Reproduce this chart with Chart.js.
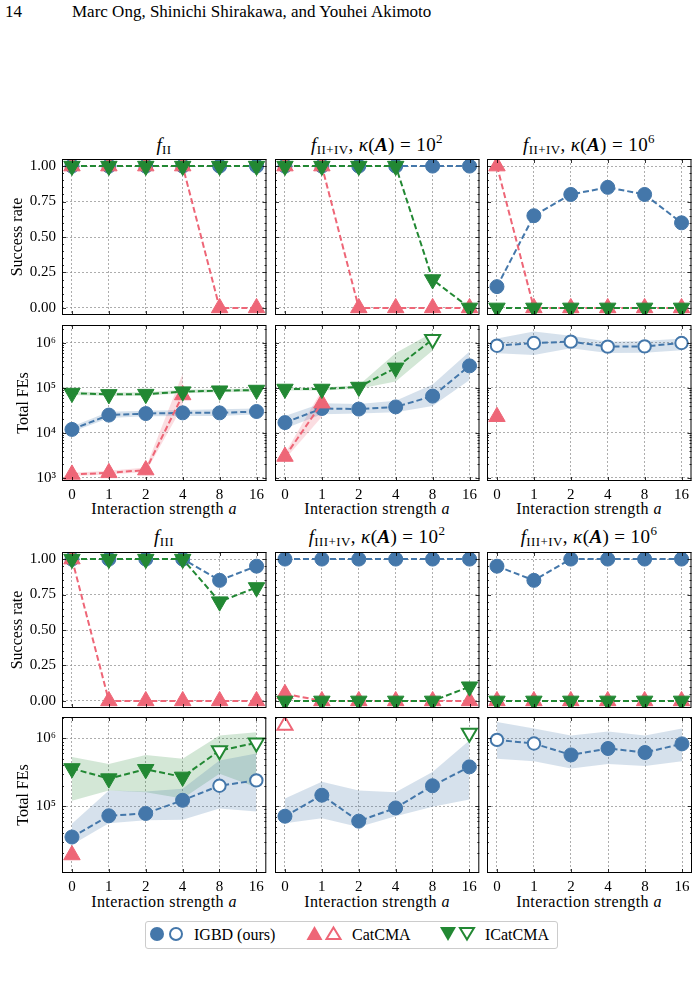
<!DOCTYPE html>
<html>
<head>
<meta charset="utf-8">
<script src="https://cdn.jsdelivr.net/npm/chart.js@4.4.0/dist/chart.umd.min.js"></script>
<style>
body { margin: 0; background: #fff; width: 699px; height: 983px; position: relative; overflow: hidden; font-family: "Liberation Serif", serif; color: #000; }
canvas { position: absolute; }
.txt { position: absolute; white-space: nowrap; line-height: 20px; }
.ttl { position: absolute; white-space: nowrap; line-height: 20px; font-size: 19px; letter-spacing: 0.4px; transform: translateX(-50%); }
.xt { position: absolute; white-space: nowrap; line-height: 20px; font-size: 16px; letter-spacing: 0.4px; transform: translateX(-50%); }
sub { font-size: 13px; line-height: 0; vertical-align: -3px; }
sup { font-size: 13px; line-height: 0; vertical-align: 8px; }
#legend { position: absolute; left: 145px; top: 921px; width: 411px; height: 26px; border: 1px solid #ccc; border-radius: 3px; }
#legend span { position: absolute; top: 3px; font-size: 16px; line-height: 20px; white-space: nowrap; }
</style>
</head>
<body>
<div class="txt" style="left:5px;top:2px;font-size:17px">14</div>
<div class="txt" style="left:72px;top:2px;font-size:17px">Marc Ong, Shinichi Shirakawa, and Youhei Akimoto</div>

<div class="ttl" style="left:164px;top:135px"><i>f</i><sub>II</sub></div>
<div class="ttl" style="left:377px;top:135px"><i>f</i><sub>II+IV</sub>, <i>κ</i>(<b><i>A</i></b>) = 10<sup>2</sup></div>
<div class="ttl" style="left:589px;top:135px"><i>f</i><sub>II+IV</sub>, <i>κ</i>(<b><i>A</i></b>) = 10<sup>6</sup></div>
<div class="ttl" style="left:164px;top:527px"><i>f</i><sub>III</sub></div>
<div class="ttl" style="left:377px;top:527px"><i>f</i><sub>III+IV</sub>, <i>κ</i>(<b><i>A</i></b>) = 10<sup>2</sup></div>
<div class="ttl" style="left:589px;top:527px"><i>f</i><sub>III+IV</sub>, <i>κ</i>(<b><i>A</i></b>) = 10<sup>6</sup></div>

<div class="xt" style="left:164px;top:499px">Interaction strength <i>a</i></div>
<div class="xt" style="left:377px;top:499px">Interaction strength <i>a</i></div>
<div class="xt" style="left:589px;top:499px">Interaction strength <i>a</i></div>
<div class="xt" style="left:164px;top:892px">Interaction strength <i>a</i></div>
<div class="xt" style="left:377px;top:892px">Interaction strength <i>a</i></div>
<div class="xt" style="left:589px;top:892px">Interaction strength <i>a</i></div>

<div id="legend">
  <svg width="411" height="26" style="position:absolute;left:0;top:0">
    <circle cx="11" cy="12" r="7" fill="#4477AA"/>
    <circle cx="30" cy="12" r="6" fill="#fff" stroke="#4477AA" stroke-width="2"/>
    <polygon points="168.5,4 176.5,18 160.5,18" fill="#EE6677"/>
    <polygon points="187.5,5.5 194.5,17 180.5,17" fill="#fff" stroke="#EE6677" stroke-width="2"/>
    <polygon points="302,19 310,5 294,5" fill="#228833"/>
    <polygon points="321,17.5 328,6 314,6" fill="#fff" stroke="#228833" stroke-width="2"/>
  </svg>
  <span style="left:48px">IGBD (ours)</span>
  <span style="left:206px">CatCMA</span>
  <span style="left:339px">ICatCMA</span>
</div>

<script>
// x categories and tick labels
const xLabels = ['0', '1', '2', '4', '8', '16'];
const srTicks = [0, 0.25, 0.5, 0.75, 1];
const feTicks = [1e3, 1e4, 1e5, 1e6];
const supers = {3: '\u00B3', 4: '\u2074', 5: '\u2075', 6: '\u2076'};

// ---- top group: success rate ----
const srA_igbd = [1, 1, 1, 1, 1, 1];
const srA_cat  = [1, 1, 1, 1, 0, 0];
const srA_icat = [1, 1, 1, 1, 1, 1];
const srB_igbd = [1, 1, 1, 1, 1, 1];
const srB_cat  = [1, 1, 0, 0, 0, 0];
const srB_icat = [1, 1, 1, 1, 0.2, 0];
const srC_igbd = [0.15, 0.65, 0.8, 0.85, 0.8, 0.6];
const srC_cat  = [1, 0, 0, 0, 0, 0];
const srC_icat = [0, 0, 0, 0, 0, 0];

// ---- top group: total FEs ----
const feA_igbd   = [1.2e4, 2.5e4, 2.7e4, 2.8e4, 2.8e4, 3.0e4];
const feA_igbdLo = [1.05e4, 2.15e4, 2.35e4, 2.4e4, 2.4e4, 2.6e4];
const feA_igbdHi = [1.4e4, 2.95e4, 3.1e4, 3.25e4, 3.35e4, 3.5e4];
const feA_cat    = [1.2e3, 1.3e3, 1.5e3, 7.0e4, null, null];
const feA_catLo  = [1.1e3, 1.2e3, 1.35e3, 4.0e4, null, null];
const feA_catHi  = [1.3e3, 1.45e3, 1.7e3, 2.1e5, null, null];
const feA_icat   = [7.7e4, 7.2e4, 7.3e4, 8.3e4, 8.7e4, 9.0e4];
const feA_icatLo = [7.0e4, 6.6e4, 6.7e4, 7.6e4, 8.0e4, 8.3e4];
const feA_icatHi = [8.4e4, 7.9e4, 8.0e4, 9.1e4, 9.5e4, 9.8e4];

const feB_igbd   = [1.7e4, 3.5e4, 3.4e4, 3.8e4, 6.6e4, 3.1e5];
const feB_igbdLo = [1.25e4, 2.6e4, 2.7e4, 2.9e4, 4.0e4, 1.5e5];
const feB_igbdHi = [2.4e4, 4.6e4, 4.4e4, 5.2e4, 1.2e5, 6.5e5];
const feB_cat    = [3.0e3, 4.6e4, null, null, null, null];
const feB_catLo  = [2.6e3, 2.3e4, null, null, null, null];
const feB_catHi  = [3.5e3, 9.0e4, null, null, null, null];
const feB_icat   = [9.5e4, 9.5e4, 1.05e5, 2.8e5, 1.2e6, null];
const feB_icatLo = [8.8e4, 8.8e4, 9.6e4, 1.4e5, 6.8e5, null];
const feB_icatHi = [1.03e5, 1.03e5, 1.15e5, 6.0e5, 1.7e6, null];
const feB_icatOpen = [0, 0, 0, 0, 1, 0];

const feC_igbd   = [8.7e5, 1.0e6, 1.07e6, 8.3e5, 8.4e5, 1.0e6];
const feC_igbdLo = [5.9e5, 5.4e5, 7.6e5, 6.0e5, 6.1e5, 6.9e5];
const feC_igbdHi = [1.26e6, 1.8e6, 1.45e6, 1.07e6, 1.1e6, 1.26e6];
const feC_igbdOpen = [1, 1, 1, 1, 1, 1];
const feC_cat    = [2.3e4, null, null, null, null, null];

// ---- bottom group: success rate ----
const srD_igbd = [1, 1, 1, 1, 0.85, 0.95];
const srD_cat  = [1, 0, 0, 0, 0, 0];
const srD_icat = [1, 1, 1, 1, 0.7, 0.8];
const srE_igbd = [1, 1, 1, 1, 1, 1];
const srE_cat  = [0.05, 0, 0, 0, 0, 0];
const srE_icat = [0, 0, 0, 0, 0, 0.1];
const srF_igbd = [0.95, 0.85, 1, 1, 1, 1];
const srF_cat  = [0, 0, 0, 0, 0, 0];
const srF_icat = [0, 0, 0, 0, 0, 0];

// ---- bottom group: total FEs ----
const feD_igbd   = [3.5e4, 7.2e4, 7.8e4, 1.22e5, 2.0e5, 2.4e5];
const feD_igbdLo = [2.7e4, 5.6e4, 6.2e4, 6.3e4, 9.2e4, 8.3e4];
const feD_igbdHi = [5.5e4, 1.7e5, 1.65e5, 1.8e5, 4.7e5, 6.0e5];
const feD_igbdOpen = [0, 0, 0, 0, 1, 1];
const feD_cat    = [1.9e4, null, null, null, null, null];
const feD_icat   = [3.6e5, 2.55e5, 3.5e5, 2.7e5, 6.6e5, 8.6e5];
const feD_icatLo = [1.2e5, 1.7e5, 1.6e5, 1.3e5, 3.0e5, 1.9e5];
const feD_icatHi = [5.3e5, 4.2e5, 5.7e5, 5.0e5, 1.1e6, 1.23e6];
const feD_icatOpen = [0, 0, 0, 0, 1, 1];

const feE_igbd   = [7.1e4, 1.45e5, 6.0e4, 9.4e4, 2.0e5, 3.8e5];
const feE_igbdLo = [5.6e4, 6.6e4, 4.9e4, 7.1e4, 9.8e4, 1.25e5];
const feE_igbdHi = [1.3e5, 2.3e5, 1.7e5, 1.6e5, 3.2e5, 9.3e5];
const feE_cat    = [1.55e6, null, null, null, null, null];
const feE_catOpen = [1, 0, 0, 0, 0, 0];
const feE_icat   = [null, null, null, null, null, 1.2e6];
const feE_icatOpen = [0, 0, 0, 0, 0, 1];

const feF_igbd   = [9.5e5, 8.4e5, 5.7e5, 7.1e5, 6.2e5, 8.3e5];
const feF_igbdLo = [5.0e5, 4.6e5, 3.6e5, 4.2e5, 3.9e5, 4.6e5];
const feF_igbdHi = [1.75e6, 1.4e6, 1.1e6, 1.26e6, 1.1e6, 1.4e6];
const feF_igbdOpen = [1, 1, 0, 0, 0, 0];

const blue = '#4477AA', pink = '#EE6677', green = '#228833';
const blueBand = 'rgba(68,119,170,0.22)', pinkBand = 'rgba(238,102,119,0.22)', greenBand = 'rgba(34,136,51,0.2)';

// layout of the 12 axes
const colX = [62, 275, 487];
const rowY = [159, 325, 552, 717];
const PW = 205, PH = 156, PADT = 18, PADR = 10, YW = 62, XH = 34;
const feRange = [[857, 2.51e6], [1.03e4, 2.07e6]];
const FONT = "'Liberation Serif', serif";

function pts(a) { return a.map((v, i) => ({x: i, y: v})); }

function line(vals, color, shape, open, order) {
  const o = open || [];
  const r = shape === 'circle' ? 7 : 9.5;
  return {
    data: pts(vals), order: order,
    borderColor: color, borderWidth: 2, borderDash: [6, 3],
    pointStyle: shape === 'circle' ? 'circle' : 'triangle',
    pointRotation: shape === 'down' ? 180 : 0,
    pointRadius: vals.map((v, i) => o[i] ? r - 0.8 : r),
    pointBackgroundColor: vals.map((v, i) => o[i] ? '#fff' : color),
    pointBorderColor: color,
    pointBorderWidth: vals.map((v, i) => o[i] ? 2 : 1),
    fill: false, spanGaps: false
  };
}

function band(lo, hi, color) {
  return [
    {data: pts(hi), order: 10, borderColor: 'transparent', borderWidth: 0, pointRadius: 0, backgroundColor: color, fill: '+1'},
    {data: pts(lo), order: 10, borderColor: 'transparent', borderWidth: 0, pointRadius: 0, fill: false}
  ];
}

// box around each axes with inward major/minor ticks
const frame = {
  id: 'frame',
  afterDatasetsDraw(chart) {
    const {ctx, chartArea: a, scales: {x, y}} = chart;
    ctx.save();
    ctx.strokeStyle = '#000';
    ctx.setLineDash([]);
    ctx.lineWidth = 1;
    ctx.strokeRect(a.left + 0.5, a.top + 0.5, a.right - a.left - 1, a.bottom - a.top - 1);
    ctx.lineWidth = 0.8;
    ctx.beginPath();
    x.ticks.forEach(t => {
      const p = Math.round(x.getPixelForValue(t.value)) + 0.5;
      ctx.moveTo(p, a.bottom); ctx.lineTo(p, a.bottom - 4);
      ctx.moveTo(p, a.top); ctx.lineTo(p, a.top + 4);
    });
    const yt = [];
    if (y.type === 'logarithmic') {
      for (let e = Math.floor(Math.log10(y.min)); e <= Math.ceil(Math.log10(y.max)); e++) {
        for (let m = 1; m < 10; m++) {
          const v = m * Math.pow(10, e);
          if (v >= y.min && v <= y.max) yt.push([v, m === 1 ? 4 : 2]);
        }
      }
    } else {
      for (let k = -1; k <= 21; k++) yt.push([k * 0.05, k % 5 === 0 ? 4 : 2]);
    }
    yt.forEach(([v, len]) => {
      const p = Math.round(y.getPixelForValue(v)) + 0.5;
      if (p < a.top || p > a.bottom) return;
      ctx.moveTo(a.left, p); ctx.lineTo(a.left + len, p);
      ctx.moveTo(a.right, p); ctx.lineTo(a.right - len, p);
    });
    ctx.stroke();
    ctx.restore();
  }
};

function panel(col, row, datasets) {
  const isFe = row % 2 === 1;
  const showY = col === 0, showX = isFe;
  const cv = document.createElement('canvas');
  const w = YW + PW + PADR, h = PADT + PH + XH;
  cv.width = w; cv.height = h;
  cv.style.width = w + 'px'; cv.style.height = h + 'px';
  cv.style.left = (colX[col] - YW) + 'px';
  cv.style.top = (rowY[row] - PADT) + 'px';
  document.body.appendChild(cv);

  const grid = {color: '#8a8a8a', lineWidth: 0.7, drawTicks: false};
  const border = {display: false, dash: [2, 2]};
  let yScale;
  if (isFe) {
    const rg = feRange[row === 1 ? 0 : 1];
    yScale = {
      type: 'logarithmic', min: rg[0], max: rg[1],
      afterBuildTicks: s => { s.ticks = feTicks.filter(v => v >= s.min && v <= s.max).map(v => ({value: v})); },
      ticks: {display: showY, color: '#000', padding: 6, font: {family: FONT, size: 15},
              callback: v => '10' + supers[Math.round(Math.log10(v))]},
      title: {display: showY, text: 'Total FEs', color: '#000', font: {family: FONT, size: 16}, padding: {top: 14, bottom: 0}}
    };
  } else {
    yScale = {
      type: 'linear', min: -0.05, max: 1.05,
      afterBuildTicks: s => { s.ticks = srTicks.map(v => ({value: v})); },
      ticks: {display: showY, color: '#000', padding: 6, font: {family: FONT, size: 15},
              callback: v => v.toFixed(2)},
      title: {display: showY, text: 'Success rate', color: '#000', font: {family: FONT, size: 16}, padding: {top: 8, bottom: 0}}
    };
  }
  yScale.grid = grid; yScale.border = border;
  yScale.afterFit = s => { s.width = YW; };

  new Chart(cv, {
    type: 'line',
    data: {datasets: datasets},
    options: {
      responsive: false, animation: false, devicePixelRatio: 1, events: [],
      layout: {padding: {top: PADT, right: PADR, left: 0, bottom: 0}},
      plugins: {legend: {display: false}, tooltip: {enabled: false}},
      scales: {
        x: {
          type: 'linear', min: -0.27, max: 5.27,
          afterBuildTicks: s => { s.ticks = xLabels.map((l, i) => ({value: i})); },
          afterFit: s => { s.height = XH; },
          ticks: {display: showX, color: '#000', padding: 5, maxRotation: 0, font: {family: FONT, size: 15},
                  callback: v => xLabels[v]},
          grid: grid, border: border
        },
        y: yScale
      }
    },
    plugins: [frame]
  });
}

// top group
panel(0, 0, [line(srA_icat, green, 'down', null, 1), line(srA_cat, pink, 'up', null, 2), line(srA_igbd, blue, 'circle', null, 3)]);
panel(1, 0, [line(srB_icat, green, 'down', null, 1), line(srB_cat, pink, 'up', null, 2), line(srB_igbd, blue, 'circle', null, 3)]);
panel(2, 0, [line(srC_icat, green, 'down', null, 1), line(srC_cat, pink, 'up', null, 2), line(srC_igbd, blue, 'circle', null, 3)]);

panel(0, 1, [line(feA_icat, green, 'down', null, 1), line(feA_cat, pink, 'up', null, 2), line(feA_igbd, blue, 'circle', null, 3),
  ...band(feA_igbdLo, feA_igbdHi, blueBand), ...band(feA_catLo, feA_catHi, pinkBand), ...band(feA_icatLo, feA_icatHi, greenBand)]);
panel(1, 1, [line(feB_icat, green, 'down', feB_icatOpen, 1), line(feB_cat, pink, 'up', null, 2), line(feB_igbd, blue, 'circle', null, 3),
  ...band(feB_igbdLo, feB_igbdHi, blueBand), ...band(feB_catLo, feB_catHi, pinkBand), ...band(feB_icatLo, feB_icatHi, greenBand)]);
panel(2, 1, [line(feC_cat, pink, 'up', null, 2), line(feC_igbd, blue, 'circle', feC_igbdOpen, 3),
  ...band(feC_igbdLo, feC_igbdHi, blueBand)]);

// bottom group
panel(0, 2, [line(srD_icat, green, 'down', null, 1), line(srD_cat, pink, 'up', null, 2), line(srD_igbd, blue, 'circle', null, 3)]);
panel(1, 2, [line(srE_icat, green, 'down', null, 1), line(srE_cat, pink, 'up', null, 2), line(srE_igbd, blue, 'circle', null, 3)]);
panel(2, 2, [line(srF_icat, green, 'down', null, 1), line(srF_cat, pink, 'up', null, 2), line(srF_igbd, blue, 'circle', null, 3)]);

panel(0, 3, [line(feD_icat, green, 'down', feD_icatOpen, 1), line(feD_cat, pink, 'up', null, 2), line(feD_igbd, blue, 'circle', feD_igbdOpen, 3),
  ...band(feD_igbdLo, feD_igbdHi, blueBand), ...band(feD_icatLo, feD_icatHi, greenBand)]);
panel(1, 3, [line(feE_icat, green, 'down', feE_icatOpen, 1), line(feE_cat, pink, 'up', feE_catOpen, 2), line(feE_igbd, blue, 'circle', null, 3),
  ...band(feE_igbdLo, feE_igbdHi, blueBand)]);
panel(2, 3, [line(feF_igbd, blue, 'circle', feF_igbdOpen, 3), ...band(feF_igbdLo, feF_igbdHi, blueBand)]);
</script>
</body>
</html>
